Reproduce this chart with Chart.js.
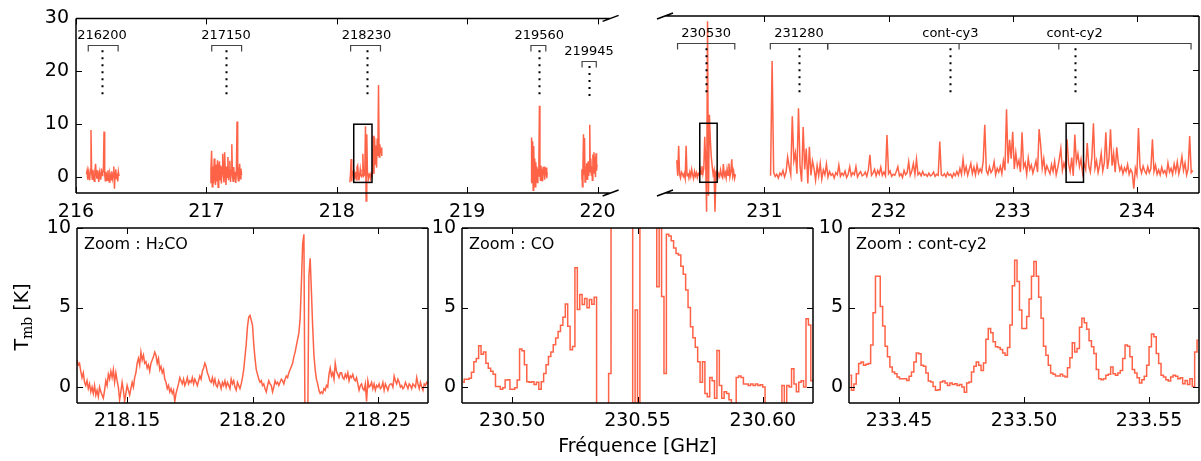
<!DOCTYPE html>
<html>
<head>
<meta charset="utf-8">
<script src="https://cdn.jsdelivr.net/npm/chart.js@4.4.1/dist/chart.umd.min.js"></script>
<style>
  html, body { margin: 0; padding: 0; background: #fff; }
  #fig { position: relative; width: 1201px; height: 461px; overflow: hidden; }
  .panel { position: absolute; }
</style>
</head>
<body>
<div id="fig"></div>
<script>
// ─────────────────────────────────────────────────────────────
// Spectres : vue d'ensemble (haut) + trois zooms (bas)
// ─────────────────────────────────────────────────────────────
const RED = '#ff6347';
const FONT = '"DejaVu Sans", sans-serif';

// vue d'ensemble, partie gauche (216 – 220.1 GHz), Tmb en K
const seg216Tmb = [0.5, 1.2, -0.5, 1.0, 0.2, -0.6, 1.5, 8.9, 0.8, -0.4,
  1.4, 0.1, -0.8, 1.1, 2.5, 0.6, -0.3, 1.3, 0.2, -0.9,
  1.0, 0.4, -0.5, 1.6, 0.3, 0.9, 1.2, 8.6, 0.5, -0.7,
  1.0, 0.2, -0.6, 1.3, 0.0, -0.9, 0.8, 0.3, -0.5, 1.1,
  -0.2, 0.6, 2.0, -2.2, 0.9, 1.5, -0.4, 0.7, -0.8, 1.0, 0.2];
const seg217Tmb = [-1.0, 1.5, 5.0, -1.8, 2.0, -1.2, 3.5, 0.2, -1.5, 2.4,
  -0.8, 3.2, -1.9, 1.6, 3.0, -0.5, 2.2, -1.2, 1.8, 4.4,
  0.4, -1.0, 4.7, 1.0, -1.5, 2.0, 0.0, 3.8, -0.6, 1.4,
  3.1, -0.9, 1.2, 6.2, 0.3, -0.8, 1.9, -0.4, 1.0, -1.1,
  0.8, 10.5, 0.5, -0.7, 1.2, 2.5, -0.3, 1.6, 0.4];
const seg218Tmb = [-1.0, 0.5, 3.4, -0.8, 1.2, 0.3, 1.5, -0.4, 0.6, 1.0,
  -0.5, 1.9, 2.2, 0.6, -0.6, 0.4, 1.5, 0.3, 0.1, 0.4,
  4.4, 0.2, 0.4, 1.3, 9.6, -4.5, 8.1, 0.9, 0.6, -0.2,
  0.3, 0.6, -0.1, 0.4, 0.2, 1.5, 7.8, 0.6, 7.5, 2.5,
  6.0, 1.8, 7.3, 4.0, 17.4, 3.8, 6.2, 4.5, 5.6, 4.0];
const seg2195Tmb = [-1.0, 7.5, 2.0, 6.8, -2.5, 5.9, 1.0, 3.5, -1.8, 2.8,
  0.0, 2.0, -1.0, 1.6, 0.2, 3.0, 13.5, 1.2, -0.6, 2.2,
  0.1, 1.5, -0.8, 1.9, 0.4, 2.0, -0.5, 1.6, 0.3, 1.8, -0.2, 0.9];
const seg2199Tmb = [-0.5, 1.5, -1.8, 2.2, 8.1, 0.5, 7.4, -0.9, 2.0, 0.3,
  2.6, -0.4, 1.8, 3.0, 0.2, 2.4, 9.9, 1.0, 3.5, 0.4,
  2.0, -0.6, 4.3, 1.5, 4.7, 0.8, 3.9, 0.0, 4.5, 1.2, 2.4];

// vue d'ensemble, partie droite (230.2 – 234.5 GHz)
const seg230Tmb = [3.1, 0.2, 5.8, 0.5, -0.2, 0.9, 0.6, 0.1, 0.6, -0.3,
  5.8, 0.2, 0.7, -0.2, 0.9, 0.1, 1.4, 0.4, -0.3, 1.0,
  0.2, 0.8, -0.1, 0.6, 0.3, 1.5, 0.5, 2.0, 0.6, 1.6,
  7.5, 3.0, -6.5, 29.0, -3.5, 11.6, 6.9, 3.8, 2.0, 0.5,
  1.2, -6.5, 0.4, 1.0, -0.2, 0.6, 0.1, 1.3, 0.3, -0.1,
  2.4, 0.2, 0.8, -0.2, 1.5, 0.3, 2.5, 0.0, 0.9, 3.3,
  0.2, 1.1, -0.3, 0.5];
const seg231Tmb = [0.2, 21.6, 0.8, 0.1, 0.5, -0.2, 0.7, 0.3, 1.2, 0.0,
  0.9, 3.7, 1.9, 0.4, 11.3, 3.0, 4.5, 0.6, 12.8, 2.0,
  -0.9, 9.3, 1.4, 5.3, -1.2, 5.6, 0.3, 3.0, 1.6, -0.6,
  2.1, 0.2, 2.5, -0.4, 1.3, 0.4, 2.4, 0.0, 1.0, 0.3,
  0.6, -0.2, 0.8, 0.4, 2.2, 0.1, 0.7, 0.3, 1.1, -0.1,
  0.5, 1.9, 0.2, 0.8, 0.4, 1.9, 0.0, 0.6, 1.0, 0.2,
  0.4, 0.9, 0.1, 1.3, 4.1, 0.3, 0.7, 1.4, 0.2, 1.2,
  0.5, 1.8, 0.3, 0.9, 0.2, 7.8, 0.6, 1.1, 0.1, 0.5,
  0.3, 1.0, 1.9, 0.2, 0.6, -0.1, 1.2, 0.4, 0.8, 2.8,
  0.3, 1.1, 2.5, 0.5, 3.3, 0.4, 0.8, 0.2, 1.0, 0.3,
  0.5, 0.1, 0.7, 0.2, 0.4, 0.9, 0.1, 0.5, 0.3, 6.6,
  0.4, 0.2, 0.6, 0.0, 0.8, 0.3, 0.5, -0.1, 0.7, 0.2,
  1.0, 0.3, 1.6, 0.5, 3.3, 0.8, 1.9, 0.3, 1.4, 2.5,
  0.6, 1.8, 0.4, 2.2, 0.7, 1.5, 0.9, 3.0, 9.7, 1.2,
  0.5, 1.9, 0.8, 1.3, 2.8, 0.4, 1.6, 0.9, 2.0, 0.6,
  3.0, 1.2, 12.6, 2.5, 6.9, 3.4, 8.4, 1.5, 4.5, 2.0,
  3.1, 0.9, 8.3, 1.8, 2.6, 0.5, 3.5, 1.4, 2.2, 0.7,
  1.8, 3.0, 0.9, 8.9, 6.0, 1.6, 3.4, 0.8, 2.1, 1.3,
  0.6, 2.3, 1.0, 2.9, 0.4, 1.7, 3.3, 5.3, 1.2, 2.6,
  1.5, 7.0, 2.4, 1.0, 3.6, 0.2, 7.9, 2.8, 4.3, 1.9,
  3.3, 0.7, 2.5, 1.4, 6.3, 2.0, 0.9, 3.7, 10.0, 1.6,
  3.0, 0.8, 2.2, 4.4, 1.1, 2.6, 8.3, 1.5, 3.4, 8.9,
  2.1, 4.4, 0.9, 5.5, 2.7, 1.2, 2.0, 0.6, 1.7, 1.0,
  2.3, 0.5, 1.4, 0.8, -2.2, 1.6, 0.4, 9.1, 1.8, 0.7,
  2.0, 1.1, 0.6, 1.9, 0.8, 1.5, 7.0, 1.0, 2.2, 0.5,
  1.3, 0.4, 1.8, 0.7, 1.2, 0.3, 2.6, 0.9, 1.6, 0.5,
  2.4, 1.0, 2.8, 0.6, 1.9, 3.8, 1.2, 2.6, 0.4, 1.5,
  7.6, 0.8, 1.2];

// [début GHz, pas GHz, Tmb]
const leftSegments = [[216.080, 0.005, seg216Tmb], [217.030, 0.005, seg217Tmb],
  [218.100, 0.005, seg218Tmb], [219.490, 0.004, seg2195Tmb], [219.876, 0.004, seg2199Tmb]];
const rightSegments = [[230.295, 0.0075, seg230Tmb], [231.050, 0.0125, seg231Tmb]];

// zoom H2CO (218.13 – 218.27 GHz)
const h2coStart = 218.130, h2coStep = 0.0005;
const h2coTmb = [1.7, 1.4, 1.5, 1.0, 0.6, 0.9, 0.3, 0.1, 0.4, -0.1, 0.2,
  -0.3, 0.0, -0.4, 0.1, -0.5, -0.2, -0.6, 0.0, -0.3, -0.5,
  -0.7, -0.2, 0.4, 0.1, 0.8, 0.5, 1.0, 0.6, 1.1, 0.3,
  0.9, 0.4, 0.0, -0.8, -0.3, 0.3, -0.2, -0.9, -0.4, 0.1,
  -0.2, -0.5, -0.1, 0.3, 0.0, 0.6, 0.9, 1.5, 1.8, 1.4,
  2.2, 1.7, 2.0, 1.5, 1.6, 1.2, 1.4, 1.0, 1.5, 1.7,
  1.9, 2.2, 2.0, 1.5, 1.8, 1.1, 1.3, 0.9, 1.1, 0.5,
  0.3, -0.1, 0.1, -0.3, -0.1, -0.4, -0.2, -0.9, -0.4, -0.1,
  0.2, 0.6, 0.4, 0.2, 0.5, 0.1, 0.3, 0.6, 0.2, 0.4,
  0.3, 0.6, 0.2, 0.5, 0.3, 0.1, 0.4, 0.7, 0.5, 1.0,
  1.2, 1.5, 1.3, 0.9, 0.7, 0.4, 0.3, 0.6, 0.2, 0.5,
  0.1, 0.0, 0.4, 0.2, -0.1, 0.3, 0.1, 0.4, 0.0, 0.3,
  0.1, -0.1, 0.5, 0.2, 0.4, 0.0, -0.2, 0.3, 0.1, -0.1,
  0.2, 0.6, 1.1, 1.9, 2.7, 3.8, 4.4, 4.5, 4.2, 3.9,
  2.7, 1.8, 1.1, 0.8, 0.5, 0.3, 0.4, 0.1, 0.2, -0.1,
  -0.3, 0.1, 0.4, 0.2, 0.1, -0.3, 0.0, 0.4, 0.2, 0.3,
  0.1, 0.3, 0.5, 0.4, 0.2, 0.5, 0.7, 0.6, 0.9, 1.1,
  1.3, 1.5, 1.9, 2.2, 2.6, 3.0, 3.4, 4.3, 6.5, 9.0,
  9.6, -4.0, -4.0, -3.0, 7.0, 8.1, 6.0, 3.8, 2.0, 1.1,
  0.5, 0.2, -0.2, -0.4, -0.3, -0.4, -0.1, -0.2, 0.1, 0.0,
  0.8, 1.2, 0.7, 0.9, 0.5, 1.5, 1.0, 0.8, 0.6, 0.9,
  0.9, 0.6, 0.5, 0.8, 0.6, 0.9, 0.4, 0.7, 0.6, 0.8,
  0.5, 0.4, 0.6, 0.2, -0.2, 0.1, 0.2, -0.1, -0.2, 0.2,
  -0.9, 0.4, 0.0, 0.1, 0.3, -0.1, 0.2, -0.2, 0.1, 0.0,
  0.2, -0.1, 0.0, 0.3, -0.2, 0.2, 0.0, -0.2, 0.1, 0.2,
  0.2, 0.0, 0.7, 0.4, 0.2, 0.5, 0.3, 0.0, 0.1, -0.1,
  0.0, 0.3, 0.1, -0.1, 0.2, 0.1, -0.1, 0.2, 0.1, 0.0,
  0.6, 0.2, -0.1, 0.3, 0.0, -0.2, 0.2, 0.1, 0.3, 0.2];

// zoom CO (230.48 – 230.62 GHz), canaux
const coStart = 230.4804, coStep = 0.00096;
const coTmb = [0.3, 0.5, 0.5, 0.55, 0.93, 1.6, 1.8, 2.6, 2.07, 2.2,
  1.5, 1.18, 1.0, 0.8, 0.04, 0.04, -0.13, -0.04, 0.44, 0.46,
  -0.13, -0.13, -0.04, 0.44, 2.4, 2.28, 1.4, 0.34, 0.3, 0.34,
  0.17, 0.3, -0.13, 0.34, 0.86, 1.4, 1.92, 2.2, 2.66, 3.08,
  3.5, 3.88, 4.39, 5.23, 3.82, 2.34, 2.55, 7.5, 4.87, 5.82,
  5.19, 5.57, 4.98, 5.5, 5.2, 5.65, -4, -6, -5, -4,
  -3, 0.86, 14, 22, 29, 25, 18, 15, 13, 12,
  12, -3, 4.85, -2, 12, 13, 14, 12, 11, 12,
  11, 6.3, 10.5, 5.7, 0.85, 9.6, 9.5, 9.2, 8.75, 8.4,
  8.3, 7.6, 7.1, 6.1, 5.0, 3.8, 3.1, 2.5, 1.6, 0.3,
  1.6, -0.4, -0.6, 0.6, 0.4, -0.7, 2.3, 0.1, -0.7, -0.3,
  -0.4, -0.8, -1.1, -1.5, 0.6, 0.7, 0.6, 0.2, 0.2, 0.1,
  0.2, 0.1, 0.2, 0.1, 0.15, 0, -2, -3, -2.5, -3,
  -2, -2.5, -2, 0.1, -1.5, 0.1, 0, 1.15, 0.2, -0.3,
  0.3, 0.4, 0, 4.3, 3.9, 0.4, 0.4];

// zoom cont-cy2 (233.43 – 233.57 GHz), canaux
const cy2Start = 233.4305, cy2Step = 0.00096;
const cy2Tmb = [0.74, -0.2, 0.2, 0.84, 1.48, 1.58, 1.37, 1.43, 1.48, 2.64,
  4.68, 6.96, 6.96, 5.06, 3.84, 2.57, 1.9, 1.27, 0.95, 0.84,
  0.63, 0.53, 0.53, 0.53, 0.42, 0.68, 0.95, 1.58, 2.15, 2.1,
  1.37, 1.31, 0.89, 0.38, 0.32, 0.04, -0.2, -0.17, 0.32, 0.38,
  0.25, 0.1, 0.25, 0.17, 0.21, 0.1, 0.17, 0.0, -0.32, 0.25,
  0.32, 0.95, 1.31, 1.58, 1.37, 1.05, 1.52, 3.0, 3.69, 3.42,
  2.85, 2.53, 2.49, 2.36, 2.15, 2.0, 2.49, 3.9, 6.37, 7.97,
  6.64, 4.85, 3.69, 3.69, 4.43, 5.53, 6.96, 7.9, 6.96, 5.65,
  4.32, 2.57, 2.0, 1.37, 0.89, 0.8, 0.7, 0.7, 0.8, 0.7,
  0.63, 1.22, 1.84, 2.78, 2.2, 2.43, 3.76, 4.32, 4.05, 3.63,
  2.91, 2.53, 2.11, 1.1, 0.53, 0.46, 0.53, 0.74, 0.8, 1.27,
  0.84, 0.74, 0.89, 1.05, 1.8, 2.64, 2.57, 1.9, 1.1, 0.89,
  0.59, 0.25, 0.46, 0.68, 1.37, 2.53, 3.33, 3.16, 2.11, 1.48,
  0.74, 0.63, 0.46, 0.38, 0.63, 0.74, 0.68, 0.53, 0.59, 0.21,
  0.42, 0.17, 0.53, 0.04, 2.2, 2.95];

// raies repérées au-dessus de la vue d'ensemble
const leftBandNames = ['216200', '217150', '218230', '219560', '219945'];
const leftBandLo = [216.094, 217.041, 218.106, 219.489, 219.881];
const leftBandHi = [216.323, 217.270, 218.335, 219.603, 219.990];
const leftBandCentre = [216.200, 217.150, 218.228, 219.553, 219.934];
const leftBandLevel = [25, 25, 25, 25, 22];
const rightBandNames = ['230530', '231280', 'cont-cy3', 'cont-cy2'];
const rightBandLo = [230.301, 231.048, 231.510, 232.568];
const rightBandHi = [230.762, 231.510, 233.371, 234.436];
const rightBandCentre = [230.531, 231.279, 232.498, 233.498];
const rightBandLevel = [25, 25, 25, 25];

// fenêtres des zooms
const zoomLo = [218.13, 230.48, 233.43];
const zoomHi = [218.27, 230.62, 233.57];
const zoomTmb = [-1, 10];
const zoomTitles = ['Zoom : H\u2082CO', 'Zoom : CO', 'Zoom : cont-cy2'];

function spectrum(start, step, tmb) {
  return tmb.map((v, i) => ({ x: start + i * step, y: v }));
}

function lineDataset(points, opts) {
  return Object.assign({
    data: points, borderColor: RED, borderWidth: 1.5, pointRadius: 0,
    fill: false, tension: 0, parsing: false, normalized: true
  }, opts || {});
}

// cadre + graduations vers l'intérieur (style matplotlib)
function framePlugin(spines, tickSides, brk) {
  return {
    id: 'frame',
    afterDatasetsDraw(chart) {
      const { ctx, chartArea: a, scales: { x, y } } = chart;
      ctx.save();
      ctx.strokeStyle = '#000';
      ctx.lineWidth = 1;
      ctx.beginPath();
      x.ticks.forEach(t => {
        const px = Math.round(x.getPixelForValue(t.value)) + 0.5;
        if (tickSides.includes('b')) { ctx.moveTo(px, a.bottom); ctx.lineTo(px, a.bottom - 6); }
        if (tickSides.includes('t')) { ctx.moveTo(px, a.top); ctx.lineTo(px, a.top + 6); }
      });
      y.ticks.forEach(t => {
        const py = Math.round(y.getPixelForValue(t.value)) + 0.5;
        if (tickSides.includes('l')) { ctx.moveTo(a.left, py); ctx.lineTo(a.left + 6, py); }
        if (tickSides.includes('r')) { ctx.moveTo(a.right, py); ctx.lineTo(a.right - 6, py); }
      });
      ctx.stroke();
      ctx.lineWidth = 1.5;
      ctx.beginPath();
      if (spines.includes('l')) { ctx.moveTo(a.left, a.top); ctx.lineTo(a.left, a.bottom); }
      if (spines.includes('r')) { ctx.moveTo(a.right, a.top); ctx.lineTo(a.right, a.bottom); }
      if (spines.includes('t')) { ctx.moveTo(a.left, a.top); ctx.lineTo(a.right, a.top); }
      if (spines.includes('b')) { ctx.moveTo(a.left, a.bottom); ctx.lineTo(a.right, a.bottom); }
      if (brk) {
        const cx = brk === 'right' ? a.right : a.left;
        [a.top, a.bottom].forEach(cy => { ctx.moveTo(cx - 8, cy + 3); ctx.lineTo(cx + 8, cy - 3); });
      }
      ctx.stroke();
      ctx.restore();
    }
  };
}

// crochets, pointillés et noms des raies + rectangles des zooms
function bandsPlugin(names, lo, hi, centre, level) {
  return {
    id: 'bands',
    afterDatasetsDraw(chart) {
      const { ctx, scales: { x, y } } = chart;
      ctx.save();
      names.forEach((name, i) => {
        const yb = Math.round(y.getPixelForValue(level[i])) + 0.5;
        const x0 = x.getPixelForValue(lo[i]), x1 = x.getPixelForValue(hi[i]);
        const xc = Math.round(x.getPixelForValue(centre[i])) + 0.5;
        ctx.strokeStyle = '#444';
        ctx.lineWidth = 1.2;
        ctx.setLineDash([]);
        ctx.beginPath();
        ctx.moveTo(x0, yb + 6); ctx.lineTo(x0, yb); ctx.lineTo(x1, yb); ctx.lineTo(x1, yb + 6);
        ctx.stroke();
        ctx.strokeStyle = '#000';
        ctx.lineWidth = 2;
        ctx.setLineDash([2, 5]);
        ctx.beginPath();
        ctx.moveTo(xc, y.getPixelForValue(level[i] - 1));
        ctx.lineTo(xc, y.getPixelForValue(15));
        ctx.stroke();
        ctx.fillStyle = '#000';
        ctx.font = '13px ' + FONT;
        ctx.textAlign = 'center';
        ctx.textBaseline = 'middle';
        ctx.fillText(name, x.getPixelForValue(centre[i]), y.getPixelForValue(level[i] + 1.7));
      });
      ctx.setLineDash([]);
      ctx.strokeStyle = '#000';
      ctx.lineWidth = 1.5;
      zoomLo.forEach((z0, k) => {
        const xa = x.getPixelForValue(z0), xb = x.getPixelForValue(zoomHi[k]);
        if (xb < chart.chartArea.left || xa > chart.chartArea.right) return;
        const ya = y.getPixelForValue(zoomTmb[1]), yb = y.getPixelForValue(zoomTmb[0]);
        ctx.strokeRect(xa, ya, xb - xa, yb - ya);
      });
      ctx.restore();
    }
  };
}

function titlePlugin(text) {
  return {
    id: 'ztitle',
    afterDraw(chart) {
      const { ctx, chartArea: a } = chart;
      ctx.save();
      ctx.fillStyle = '#000';
      ctx.font = '16px ' + FONT;
      ctx.textAlign = 'left';
      ctx.textBaseline = 'alphabetic';
      ctx.fillText(text, a.left + 7, a.top + 21);
      ctx.restore();
    }
  };
}

const yTitlePlugin = {
  id: 'ytitle',
  afterDraw(chart) {
    const ctx = chart.ctx;
    const big = '19px ' + FONT, small = '14px "DejaVu Serif", serif';
    ctx.save();
    ctx.translate(23, 107);
    ctx.rotate(-Math.PI / 2);
    ctx.fillStyle = '#000';
    ctx.textBaseline = 'middle';
    ctx.textAlign = 'left';
    ctx.font = big;
    const wT = ctx.measureText('T').width, wK = ctx.measureText(' [K]').width;
    ctx.font = small;
    const wS = ctx.measureText('mb').width;
    let px = -(wT + wS + wK) / 2;
    ctx.font = big; ctx.fillText('T', px, 0); px += wT;
    ctx.font = small; ctx.fillText('mb', px, 5); px += wS;
    ctx.font = big; ctx.fillText(' [K]', px, 0);
    ctx.restore();
  }
};

const fig = document.getElementById('fig');

function addPanel(box, datasets, xo, yo, plugins) {
  const W = box.right - box.left + box.ml + box.mr;
  const H = box.bottom - box.top + box.mt + box.mb;
  const wrap = document.createElement('div');
  wrap.className = 'panel';
  wrap.style.left = (box.left - box.ml) + 'px';
  wrap.style.top = (box.top - box.mt) + 'px';
  const cv = document.createElement('canvas');
  cv.width = W; cv.height = H;
  cv.style.width = W + 'px'; cv.style.height = H + 'px';
  wrap.appendChild(cv);
  fig.appendChild(wrap);
  const tickFont = { family: FONT, size: 19 };
  return new Chart(cv, {
    type: 'line',
    data: { datasets },
    options: {
      responsive: false, animation: false, events: [], devicePixelRatio: 1,
      layout: { padding: { left: 0, top: box.mt, right: box.mr, bottom: 0 } },
      plugins: { legend: { display: false }, tooltip: { enabled: false } },
      scales: {
        x: {
          type: 'linear', position: 'bottom', min: xo.min, max: xo.max,
          grid: { display: false, drawTicks: false }, border: { display: false },
          ticks: {
            stepSize: xo.step, includeBounds: false, autoSkip: false, maxRotation: 0,
            font: tickFont, color: '#000', padding: xo.pad,
            callback: v => v.toFixed(xo.dec)
          },
          title: xo.title ? { display: true, text: xo.title, font: { family: FONT, size: 19 },
            color: '#000', padding: { top: 0, bottom: 3 } } : { display: false },
          afterFit: s => { s.height = box.mb; }
        },
        y: {
          type: 'linear', position: 'left', min: yo.min, max: yo.max,
          grid: { display: false, drawTicks: false }, border: { display: false },
          ticks: {
            stepSize: yo.step, includeBounds: false, display: yo.labels,
            font: tickFont, color: '#000', padding: yo.pad,
            callback: v => String(v)
          },
          afterFit: s => { s.width = box.ml; }
        }
      }
    },
    plugins
  });
}

// ── vue d'ensemble ──
const topLeftSets = leftSegments.map(s => lineDataset(spectrum(s[0], s[1], s[2]),
  { borderWidth: 1.5, clip: { left: 0, top: 0, right: 0, bottom: false } }));
addPanel({ left: 76, right: 612, top: 16, bottom: 193, ml: 76, mr: 12, mt: 16, mb: 30 },
  topLeftSets,
  { min: 216, max: 220.1, step: 1, dec: 0, pad: 8 },
  { min: -3, max: 30, step: 10, labels: true, pad: 7 },
  [framePlugin('ltb', 'btl', 'right'),
   bandsPlugin(leftBandNames, leftBandLo, leftBandHi, leftBandCentre, leftBandLevel)]);

const topRightSets = rightSegments.map(s => lineDataset(spectrum(s[0], s[1], s[2]),
  { borderWidth: 1.5, clip: { left: 0, top: 0, right: 0, bottom: false } }));
addPanel({ left: 665, right: 1199, top: 16, bottom: 193, ml: 20, mr: 2, mt: 16, mb: 30 },
  topRightSets,
  { min: 230.2, max: 234.5, step: 1, dec: 0, pad: 8 },
  { min: -3, max: 30, step: 10, labels: false, pad: 7 },
  [framePlugin('rtb', 'btr', 'left'),
   bandsPlugin(rightBandNames, rightBandLo, rightBandHi, rightBandCentre, rightBandLevel)]);

// ── zooms ──
addPanel({ left: 77, right: 428, top: 228, bottom: 403, ml: 77, mr: 10, mt: 18, mb: 58 },
  [lineDataset(spectrum(h2coStart, h2coStep, h2coTmb))],
  { min: 218.13, max: 218.27, step: 0.05, dec: 2, pad: 7 },
  { min: -1, max: 10, step: 5, labels: true, pad: 6 },
  [framePlugin('lrtb', 'btlr'), titlePlugin(zoomTitles[0]), yTitlePlugin]);

addPanel({ left: 462, right: 813, top: 228, bottom: 403, ml: 40, mr: 10, mt: 18, mb: 58 },
  [lineDataset(spectrum(coStart, coStep, coTmb), { stepped: 'middle' })],
  { min: 230.48, max: 230.62, step: 0.05, dec: 2, pad: 7, title: 'Fréquence [GHz]' },
  { min: -1, max: 10, step: 5, labels: true, pad: 6 },
  [framePlugin('lrtb', 'btlr'), titlePlugin(zoomTitles[1])]);

addPanel({ left: 849, right: 1199, top: 228, bottom: 403, ml: 40, mr: 2, mt: 18, mb: 58 },
  [lineDataset(spectrum(cy2Start, cy2Step, cy2Tmb), { stepped: 'middle' })],
  { min: 233.43, max: 233.57, step: 0.05, dec: 2, pad: 7 },
  { min: -1, max: 10, step: 5, labels: true, pad: 6 },
  [framePlugin('lrtb', 'btlr'), titlePlugin(zoomTitles[2])]);
</script>
</body>
</html>
